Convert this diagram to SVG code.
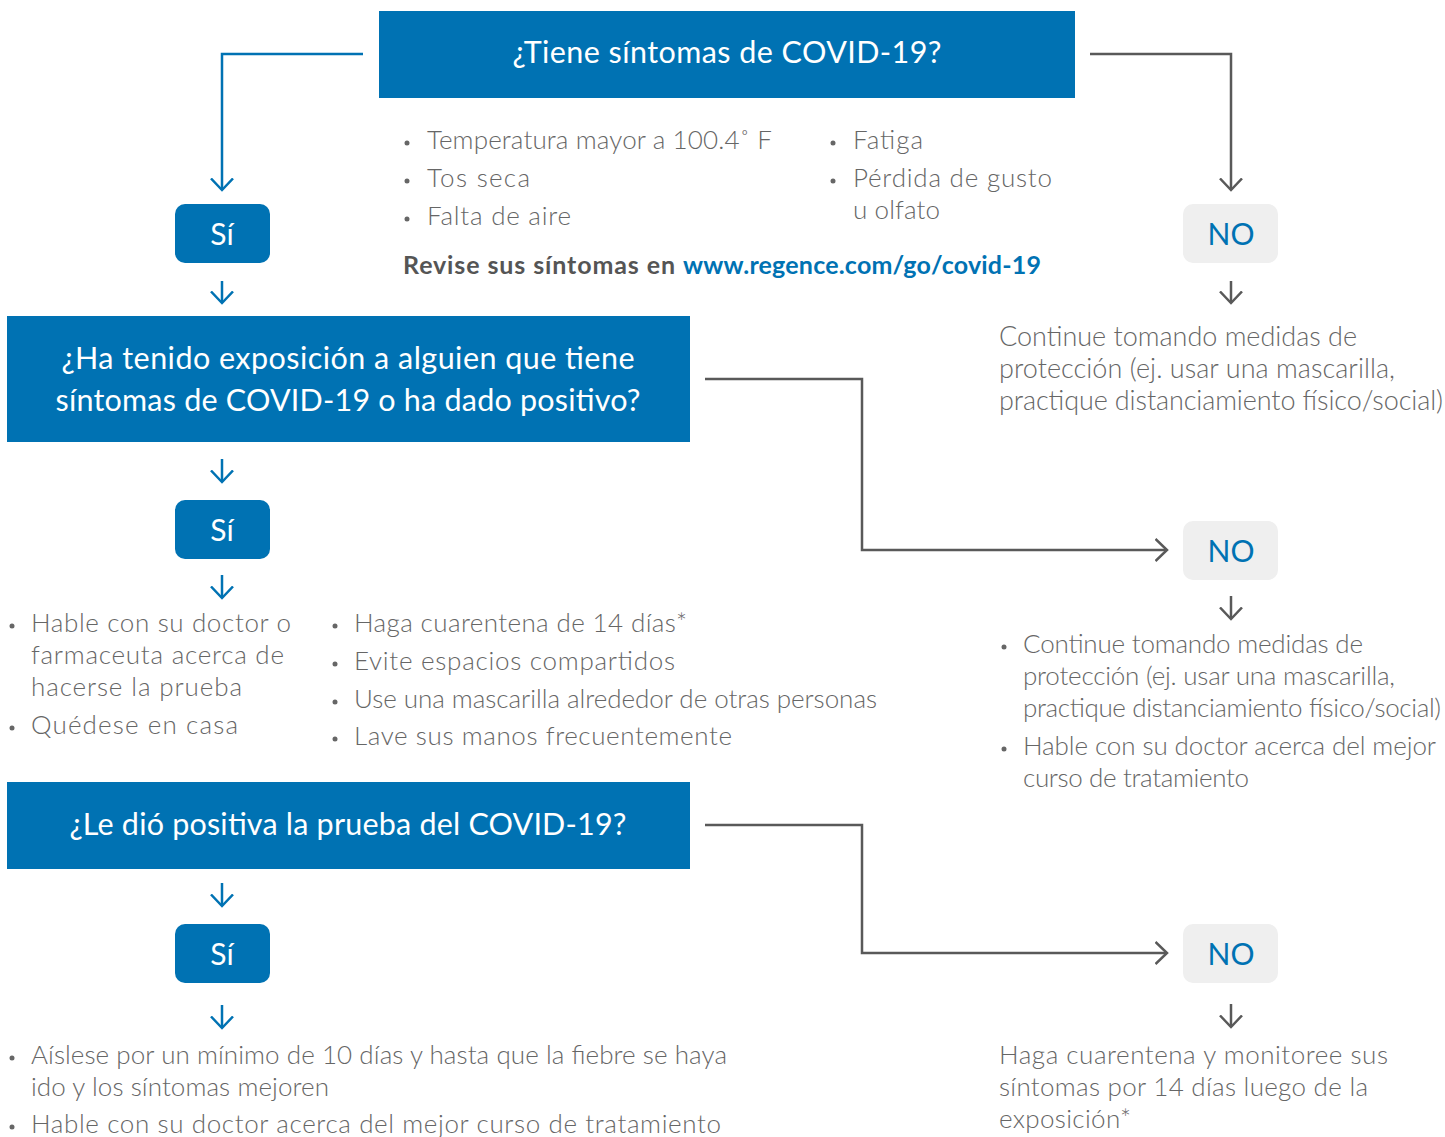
<svg xmlns="http://www.w3.org/2000/svg" width="1445" height="1137" viewBox="0 0 1445 1137">
<style>
.q{fill:#0072b3}
.qt{fill:#fff;font-family:Lato,"Liberation Sans",sans-serif;font-size:30.5px;text-anchor:middle}
.si{fill:#0072b3}
.sit{fill:#fff;font-family:Lato,"Liberation Sans",sans-serif;font-size:30px;text-anchor:middle}
.no{fill:#efefef}
.not{fill:#0072b3;font-family:Lato,"Liberation Sans",sans-serif;font-size:30px;text-anchor:middle}
.b{fill:#666;font-family:Lato,"Liberation Sans",sans-serif;font-size:26px;font-weight:300}
.bl{font-size:27px}
.dot{fill:#666}
.bold{fill:#555;font-family:Lato,"Liberation Sans",sans-serif;font-size:25px;font-weight:bold}
.link{fill:#0072b3}
.cb{fill:none;stroke:#0072b3;stroke-width:2.5}
.cg{fill:none;stroke:#595959;stroke-width:2.5}
</style>
<defs>
<marker id="ab" viewBox="0 0 14 26" refX="12.5" refY="13" markerWidth="14" markerHeight="26" markerUnits="userSpaceOnUse" orient="auto"><path d="M1 2 L12.5 13 L1 24" fill="none" stroke="#0072b3" stroke-width="2.5"/></marker>
<marker id="ag" viewBox="0 0 14 26" refX="12.5" refY="13" markerWidth="14" markerHeight="26" markerUnits="userSpaceOnUse" orient="auto"><path d="M1 2 L12.5 13 L1 24" fill="none" stroke="#595959" stroke-width="2.5"/></marker>
</defs>
<g id="connectors">
<path class="cb" d="M363 54 H222 V190" marker-end="url(#ab)"/>
<path class="cg" d="M1090 54 H1231 V190" marker-end="url(#ag)"/>
<path class="cb" d="M222 281 V303" marker-end="url(#ab)"/>
<path class="cg" d="M1231 281 V303" marker-end="url(#ag)"/>
<path class="cg" d="M705 379 H862 V550 H1167" marker-end="url(#ag)"/>
<path class="cb" d="M222 459 V482" marker-end="url(#ab)"/>
<path class="cb" d="M222 575 V598" marker-end="url(#ab)"/>
<path class="cg" d="M1231 596 V619" marker-end="url(#ag)"/>
<path class="cg" d="M705 825 H862 V953 H1167" marker-end="url(#ag)"/>
<path class="cb" d="M222 883 V906" marker-end="url(#ab)"/>
<path class="cb" d="M222 1005 V1028" marker-end="url(#ab)"/>
<path class="cg" d="M1231 1004 V1027" marker-end="url(#ag)"/>
</g>
<g id="q1"><rect class="q" x="379" y="11" width="696" height="87"/><text class="qt" x="727" y="63" textLength="429">¿Tiene síntomas de COVID-19?</text></g>
<g id="symptoms">
<circle class="dot" cx="407" cy="143" r="2.5"/><text class="b" x="427" y="149" textLength="345">Temperatura mayor a 100.4˚ F</text>
<circle class="dot" cx="407" cy="181" r="2.5"/><text class="b" x="427" y="187" textLength="103">Tos seca</text>
<circle class="dot" cx="407" cy="219" r="2.5"/><text class="b" x="427" y="225" textLength="144">Falta de aire</text>
<circle class="dot" cx="833" cy="143" r="2.5"/><text class="b" x="853" y="149" textLength="70">Fatiga</text>
<circle class="dot" cx="833" cy="181" r="2.5"/><text class="b" x="853" y="187" textLength="199">Pérdida de gusto</text>
<text class="b" x="853" y="219" textLength="87">u olfato</text>
<text class="bold" x="403" y="274" textLength="272">Revise sus síntomas en</text>
<text class="bold link" x="683" y="274" textLength="358">www.regence.com/go/covid-19</text>
</g>
<g id="si1"><rect class="si" x="175" y="204" width="95" height="59" rx="10"/><text class="sit" x="222" y="245">Sí</text></g>
<g id="no1"><rect class="no" x="1183" y="204" width="95" height="59" rx="10"/><text class="not" x="1231" y="245">NO</text></g>
<g id="no1text">
<text class="b bl" x="999" y="346" textLength="358">Continue tomando medidas de</text>
<text class="b bl" x="999" y="378" textLength="396">protección (ej. usar una mascarilla,</text>
<text class="b bl" x="999" y="410" textLength="444">practique distanciamiento físico/social)</text>
</g>
<g id="q2"><rect class="q" x="7" y="316" width="683" height="126"/>
<text class="qt" x="348" y="369" textLength="573">¿Ha tenido exposición a alguien que tiene</text>
<text class="qt" x="348" y="411" textLength="585">síntomas de COVID-19 o ha dado positivo?</text></g>
<g id="si2"><rect class="si" x="175" y="500" width="95" height="59" rx="10"/><text class="sit" x="222" y="541">Sí</text></g>
<g id="no2"><rect class="no" x="1183" y="521" width="95" height="59" rx="10"/><text class="not" x="1231" y="562">NO</text></g>
<g id="si2text">
<circle class="dot" cx="12" cy="626" r="2.5"/><text class="b" x="31" y="632" textLength="260">Hable con su doctor o</text>
<text class="b" x="31" y="664" textLength="253">farmaceuta acerca de</text>
<text class="b" x="31" y="696" textLength="211">hacerse la prueba</text>
<circle class="dot" cx="12" cy="728" r="2.5"/><text class="b" x="31" y="734" textLength="207">Quédese en casa</text>
<circle class="dot" cx="335" cy="626" r="2.5"/><text class="b" x="354" y="632" textLength="333">Haga cuarentena de 14 días*</text>
<circle class="dot" cx="335" cy="664" r="2.5"/><text class="b" x="354" y="670" textLength="321">Evite espacios compartidos</text>
<circle class="dot" cx="335" cy="702" r="2.5"/><text class="b" x="354" y="708" textLength="523">Use una mascarilla alrededor de otras personas</text>
<circle class="dot" cx="335" cy="739" r="2.5"/><text class="b" x="354" y="745" textLength="378">Lave sus manos frecuentemente</text>
</g>
<g id="no2text">
<circle class="dot" cx="1004" cy="647" r="2.5"/><text class="b" x="1023" y="653" textLength="340">Continue tomando medidas de</text>
<text class="b" x="1023" y="685" textLength="372">protección (ej. usar una mascarilla,</text>
<text class="b" x="1023" y="717" textLength="418">practique distanciamiento físico/social)</text>
<circle class="dot" cx="1004" cy="749" r="2.5"/><text class="b" x="1023" y="755" textLength="413">Hable con su doctor acerca del mejor</text>
<text class="b" x="1023" y="787" textLength="226">curso de tratamiento</text>
</g>
<g id="q3"><rect class="q" x="7" y="782" width="683" height="87"/><text class="qt" x="348" y="835" textLength="557">¿Le dió positiva la prueba del COVID-19?</text></g>
<g id="si3"><rect class="si" x="175" y="924" width="95" height="59" rx="10"/><text class="sit" x="222" y="965">Sí</text></g>
<g id="no3"><rect class="no" x="1183" y="924" width="95" height="59" rx="10"/><text class="not" x="1231" y="965">NO</text></g>
<g id="si3text">
<circle class="dot" cx="12" cy="1058" r="2.5"/><text class="b" x="31" y="1064" textLength="696">Aíslese por un mínimo de 10 días y hasta que la fiebre se haya</text>
<text class="b" x="31" y="1096" textLength="298">ido y los síntomas mejoren</text>
<circle class="dot" cx="12" cy="1127" r="2.5"/><text class="b" x="31" y="1133" textLength="690">Hable con su doctor acerca del mejor curso de tratamiento</text>
</g>
<g id="no3text">
<text class="b" x="999" y="1064" textLength="389">Haga cuarentena y monitoree sus</text>
<text class="b" x="999" y="1096" textLength="369">síntomas por 14 días luego de la</text>
<text class="b" x="999" y="1128" textLength="132">exposición*</text>
</g>
</svg>
